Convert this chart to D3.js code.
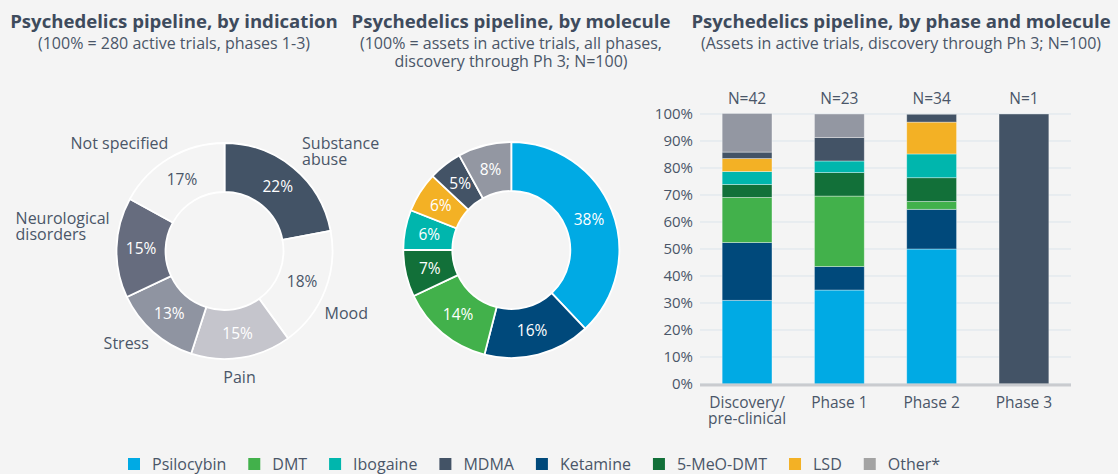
<!DOCTYPE html>
<html>
<head>
<meta charset="utf-8">
<script src="https://cdn.jsdelivr.net/npm/d3@7"></script>
<style>
  body { margin: 0; background: #f4f4f4; }
  text { font-family: "Open Sans", "Noto Sans", sans-serif; }
</style>
</head>
<body>
<div id="chart"></div>
<script>
// ---- data ----
const indications = ["Substance abuse", "Mood", "Pain", "Stress", "Neurological disorders", "Not specified"];
const indicationShare = [22, 18, 15, 13, 15, 17];

const molecules = ["Psilocybin", "Ketamine", "DMT", "5-MeO-DMT", "Ibogaine", "LSD", "MDMA", "Other*"];
const moleculeShare = [38, 16, 14, 7, 6, 6, 5, 8];

const legendOrder = ["Psilocybin", "DMT", "Ibogaine", "MDMA", "Ketamine", "5-MeO-DMT", "LSD", "Other*"];

const phases = ["Discovery/ pre-clinical", "Phase 1", "Phase 2", "Phase 3"];
const phaseN = [42, 23, 34, 1];
// percent of assets per phase, stacked bottom -> top in molecules order
const psilocybinPct = [31.0, 34.8, 50.0, 0];
const ketaminePct   = [21.4, 8.7, 14.7, 0];
const dmtPct        = [16.7, 26.1, 2.9, 0];
const meoDmtPct     = [4.8, 8.7, 8.8, 0];
const ibogainePct   = [4.8, 4.3, 8.8, 0];
const lsdPct        = [4.8, 0, 11.8, 0];
const mdmaPct       = [2.4, 8.7, 2.9, 100];
const otherPct      = [14.3, 8.7, 0, 0];

const yTicks = [0, 10, 20, 30, 40, 50, 60, 70, 80, 90, 100];

// ---- styles ----
const molColor = {
  "Psilocybin": "#00aae4",
  "DMT": "#42b14b",
  "Ibogaine": "#00b6ad",
  "MDMA": "#435366",
  "Ketamine": "#00497b",
  "5-MeO-DMT": "#127039",
  "LSD": "#f3b125",
  "Other*": "#9397a2"
};
const indColor = ["#435366", "#f4f4f4", "#c5c5cc", "#8f94a1", "#666c7e", "#f4f4f4"];
const indText = ["#fff", "#4a5668", "#fff", "#fff", "#fff", "#4a5668"];
const titleColor = "#3e4b5d";
const textColor = "#4a5668";

const W = 1118, H = 474;
const svg = d3.select("#chart").append("svg")
  .attr("width", W).attr("height", H);
svg.append("rect").attr("width", W).attr("height", H).attr("fill", "#f4f4f4");

function title(x, lines) {
  const g = svg.append("g");
  g.append("text").attr("x", x).attr("y", 28)
    .attr("text-anchor", "middle").attr("font-size", 18.6).attr("font-weight", 700)
    .attr("fill", titleColor).text(lines[0]);
  lines.slice(1).forEach((l, i) => {
    g.append("text").attr("x", x).attr("y", 48.5 + i * 18)
      .attr("text-anchor", "middle").attr("font-size", 16)
      .attr("fill", textColor).text(l);
  });
}
title(174, ["Psychedelics pipeline, by indication", "(100% = 280 active trials, phases 1-3)"]);
title(511, ["Psychedelics pipeline, by molecule", "(100% = assets in active trials, all phases,", "discovery through Ph 3; N=100)"]);
title(901, ["Psychedelics pipeline, by phase and molecule", "(Assets in active trials, discovery through Ph 3; N=100)"]);

// ---- donut helpers ----
const pie = d3.pie().sort(null).value(d => d.v);
const innerR = 59, outerR = 108;
const arc = d3.arc().innerRadius(innerR).outerRadius(outerR);

// ---- donut 1: indication ----
const d1 = svg.append("g").attr("transform", "translate(224.5,251)");
const indData = pie(indications.map((k, i) => ({k, v: indicationShare[i], i})));
d1.selectAll("path").data(indData).join("path")
  .attr("d", arc)
  .attr("fill", d => indColor[d.data.i])
  .attr("stroke", "#fff").attr("stroke-width", 1.8);
d1.selectAll("text.pct").data(indData).join("text")
  .attr("class", "pct")
  .attr("transform", d => `translate(${arc.centroid(d)})`)
  .attr("text-anchor", "middle").attr("dy", "0.35em")
  .attr("font-size", 15.5)
  .attr("fill", d => indText[d.data.i])
  .text(d => d.data.v + "%");

const labelLines = {
  "Substance abuse": ["Substance", "abuse"],
  "Neurological disorders": ["Neurological", "disorders"]
};
// anchor side + small nudges around the slice mid-angle
const labelNudge = {
  "Substance abuse": {a: "start", dx: -4, dy: 0},
  "Mood": {a: "start", dx: -19, dy: 16},
  "Pain": {a: "middle", dx: -5, dy: 1},
  "Stress": {a: "end", dx: 9, dy: -3},
  "Neurological disorders": {a: "end", dx: 13, dy: -20},
  "Not specified": {a: "end", dx: 9, dy: 3}
};
const labelR = 128;
indData.forEach(d => {
  const mid = (d.startAngle + d.endAngle) / 2;
  const n = labelNudge[d.data.k];
  const px = Math.sin(mid) * labelR + n.dx;
  const py = -Math.cos(mid) * labelR + n.dy;
  const lines = labelLines[d.data.k] || [d.data.k];
  const t = d1.append("text").attr("font-size", 16).attr("fill", textColor);
  lines.forEach((l, j) => {
    t.append("tspan").attr("x", 0).attr("y", py + 5 - (lines.length - 1) * 8 + j * 16).text(l);
  });
  const w = t.node().getBBox().width;
  const x0 = n.a === "start" ? px : n.a === "end" ? px - w : px - w / 2;
  t.selectAll("tspan").attr("x", x0);
});

// ---- donut 2: molecule ----
const d2 = svg.append("g").attr("transform", "translate(511.3,250)");
const molData = pie(molecules.map((k, i) => ({k, v: moleculeShare[i]})));
d2.selectAll("path").data(molData).join("path")
  .attr("d", arc)
  .attr("fill", d => molColor[d.data.k])
  .attr("stroke", "#fff").attr("stroke-width", 1.8);
d2.selectAll("text").data(molData).join("text")
  .attr("transform", d => `translate(${arc.centroid(d)})`)
  .attr("text-anchor", "middle").attr("dy", "0.35em")
  .attr("font-size", 15.5).attr("fill", "#fff")
  .text(d => d.data.v + "%");

// ---- stacked bars ----
const pctBy = {
  "Psilocybin": psilocybinPct, "Ketamine": ketaminePct, "DMT": dmtPct,
  "5-MeO-DMT": meoDmtPct, "Ibogaine": ibogainePct, "LSD": lsdPct,
  "MDMA": mdmaPct, "Other*": otherPct
};
const table = phases.map((p, i) => {
  const row = {phase: p};
  molecules.forEach(m => row[m] = pctBy[m][i]);
  return row;
});
const x = d3.scaleBand().domain(phases).range([700, 1071])
  .paddingInner(0.46).paddingOuter(0.24);
const y = d3.scaleLinear().domain([0, 100]).range([384, 114]);

svg.append("g").selectAll("line").data(yTicks).join("line")
  .attr("x1", 700).attr("x2", 1071)
  .attr("y1", d => y(d)).attr("y2", d => y(d))
  .attr("stroke", "#dbe4eb").attr("stroke-width", 1);

const yAxis = svg.append("g").attr("transform", "translate(700,0)")
  .call(d3.axisLeft(y).tickValues(yTicks).tickFormat(d => d + "%").tickSize(0).tickPadding(7));
yAxis.select(".domain").remove();
yAxis.selectAll("text").attr("font-size", 15).attr("fill", textColor)
  .attr("font-family", "'Open Sans', 'Noto Sans', sans-serif");

const series = d3.stack().keys(molecules)(table);
svg.append("g").selectAll("g").data(series).join("g")
  .attr("fill", s => molColor[s.key])
  .selectAll("rect").data(s => s.filter(d => d[1] > d[0])).join("rect")
  .attr("x", d => x(d.data.phase))
  .attr("width", x.bandwidth())
  .attr("y", d => y(d[1]))
  .attr("height", d => y(d[0]) - y(d[1]))
  .attr("stroke", "rgba(255,255,255,0.45)").attr("stroke-width", 0.8);

svg.append("line").attr("x1", 700).attr("x2", 1071)
  .attr("y1", y(0) + 1).attr("y2", y(0) + 1)
  .attr("stroke", "#c9cbcf").attr("stroke-width", 3);

svg.append("g").selectAll("text").data(phases).join("text")
  .attr("x", d => x(d) + x.bandwidth() / 2).attr("y", 104)
  .attr("text-anchor", "middle").attr("font-size", 15.5).attr("fill", textColor)
  .text((d, i) => "N=" + phaseN[i]);

const xl = svg.append("g").selectAll("text").data(phases).join("text")
  .attr("text-anchor", "middle").attr("font-size", 15.5).attr("fill", textColor);
xl.each(function(d) {
  const parts = d === "Discovery/ pre-clinical" ? ["Discovery/", "pre-clinical"] : [d];
  parts.forEach((p, j) => {
    d3.select(this).append("tspan")
      .attr("x", x(d) + x.bandwidth() / 2).attr("y", 408 + j * 16).text(p);
  });
});

// ---- legend ----
const leg = svg.append("g");
let lx = 128;
legendOrder.forEach(m => {
  leg.append("rect").attr("x", lx).attr("y", 458).attr("width", 12).attr("height", 12)
    .attr("fill", m === "Other*" ? "#a3a3a3" : molColor[m]);
  const t = leg.append("text").attr("x", lx + 24).attr("y", 470)
    .attr("font-size", 16).attr("fill", textColor).text(m);
  lx += 24 + t.node().getComputedTextLength() + 22;
});
</script>
</body>
</html>
